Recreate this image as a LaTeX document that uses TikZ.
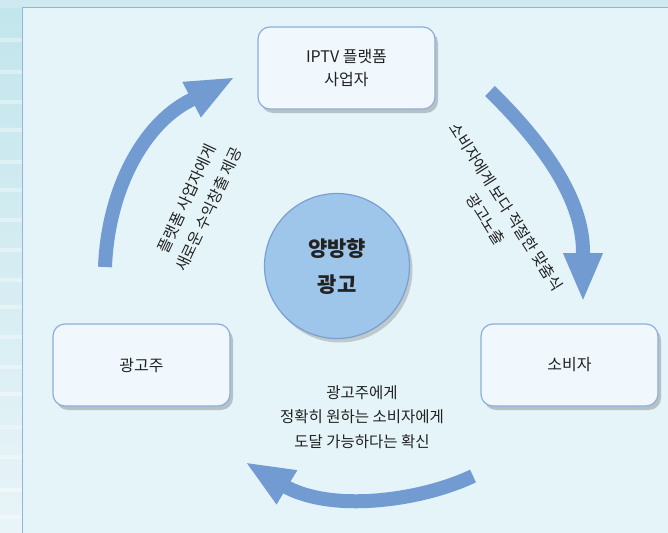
\documentclass[tikz,border=0pt]{standalone}
\usepackage{fontspec}
\newfontfamily\kr{Noto Sans CJK KR}
\usetikzlibrary{arrows.meta,shadows}
\definecolor{arrowblue}{HTML}{729BD1}
\definecolor{panelfill}{HTML}{E5F4F9}
\definecolor{panelline}{HTML}{93B4DC}
\definecolor{boxfill}{HTML}{F0F8FE}
\definecolor{boxline}{HTML}{8DAEDC}
\definecolor{circfill}{HTML}{9EC5EA}
\definecolor{circline}{HTML}{7A9FD2}
\definecolor{txt}{HTML}{222222}
\definecolor{stripetop}{HTML}{C2E5EC}
\definecolor{stripebot}{HTML}{E8F4F8}
\tikzset{
  stagebox/.style={draw=boxline, line width=1.2pt, fill=boxfill, rounded corners=12pt,
    minimum width=177pt, minimum height=82pt, align=center, text=txt,
    font=\kr\fontsize{16}{23}\selectfont,
    drop shadow={shadow xshift=3pt, shadow yshift=-4pt, opacity=0.35, fill=gray!80!black}},
  hub/.style={circle, draw=circline, line width=1.2pt, fill=circfill, minimum size=145pt,
    align=center, text=txt, font=\kr\bfseries\fontsize{21}{36}\selectfont,
    drop shadow={shadow xshift=3pt, shadow yshift=-4pt, opacity=0.3, fill=gray!80!black}},
  cyclearrow/.style={draw=arrowblue, line width=14pt,
    -{Triangle[length=49pt, width=36pt]}},
  note/.style={align=center, text=txt, font=\kr\fontsize{15.5}{24.5}\selectfont, inner sep=0pt}
}
\begin{document}
\begin{tikzpicture}[x=1pt,y=-1pt]
\useasboundingbox (0,0) rectangle (668,532);
% outer frame
\shade[top color=stripetop, bottom color=stripebot] (0,0) rectangle (668,532);
\fill[stripetop!80!white] (0,0) rectangle (668,8);
\foreach \yy in {38,70,100,128,160,188,218,248,278,305,335,365,392,425,455,488,515}
  \fill[white, opacity=0.35] (0,\yy) rectangle (22,\yy+4);
% panel
\filldraw[fill=panelfill, draw=panelline, line width=1pt] (22,8) rectangle (680,545);

% nodes
\node[stagebox] (platform) at (346.5,68) {IPTV 플랫폼\\사업자};
\node[stagebox] (advertiser) at (141.5,365) {광고주};
\node[stagebox] (consumer) at (569.5,365) {소비자};
\node[hub, text depth=0pt] (hubnode) at (337,266) {양방향\\광고};

% arrows
\coordinate (la) at (105,267);
\coordinate (lb) at (189,101);
\coordinate (lc) at (235,77);
\draw[cyclearrow] (la) .. controls (108,190) and (143,125) .. (lb) -- (lc);

\coordinate (ra) at (490,91);
\coordinate (rb) at (583,252);
\coordinate (rc) at (583,302);
\draw[cyclearrow] (ra) .. controls (545,145) and (583,200) .. (rb) -- (rc);

\coordinate (ba) at (473,476);
\coordinate (bb) at (288,488);
\coordinate (bc) at (245,462);
\draw[cyclearrow] (ba) .. controls (425,499) and (338,513) .. (bb) -- (bc);

% labels
\node[note, rotate=65] (leftlabel) at (198,204) {플랫폼 사업자에게\\새로운 수익창출 제공};
\node[note, rotate=-57.5] (rightlabel) at (496,213) {소비자에게 보다 적절한 맞춤식\\광고노출};
\node[note] (bottomlabel) at (362,417) {광고주에게\\정확히 원하는 소비자에게\\도달 가능하다는 확신};
\end{tikzpicture}
\end{document}
